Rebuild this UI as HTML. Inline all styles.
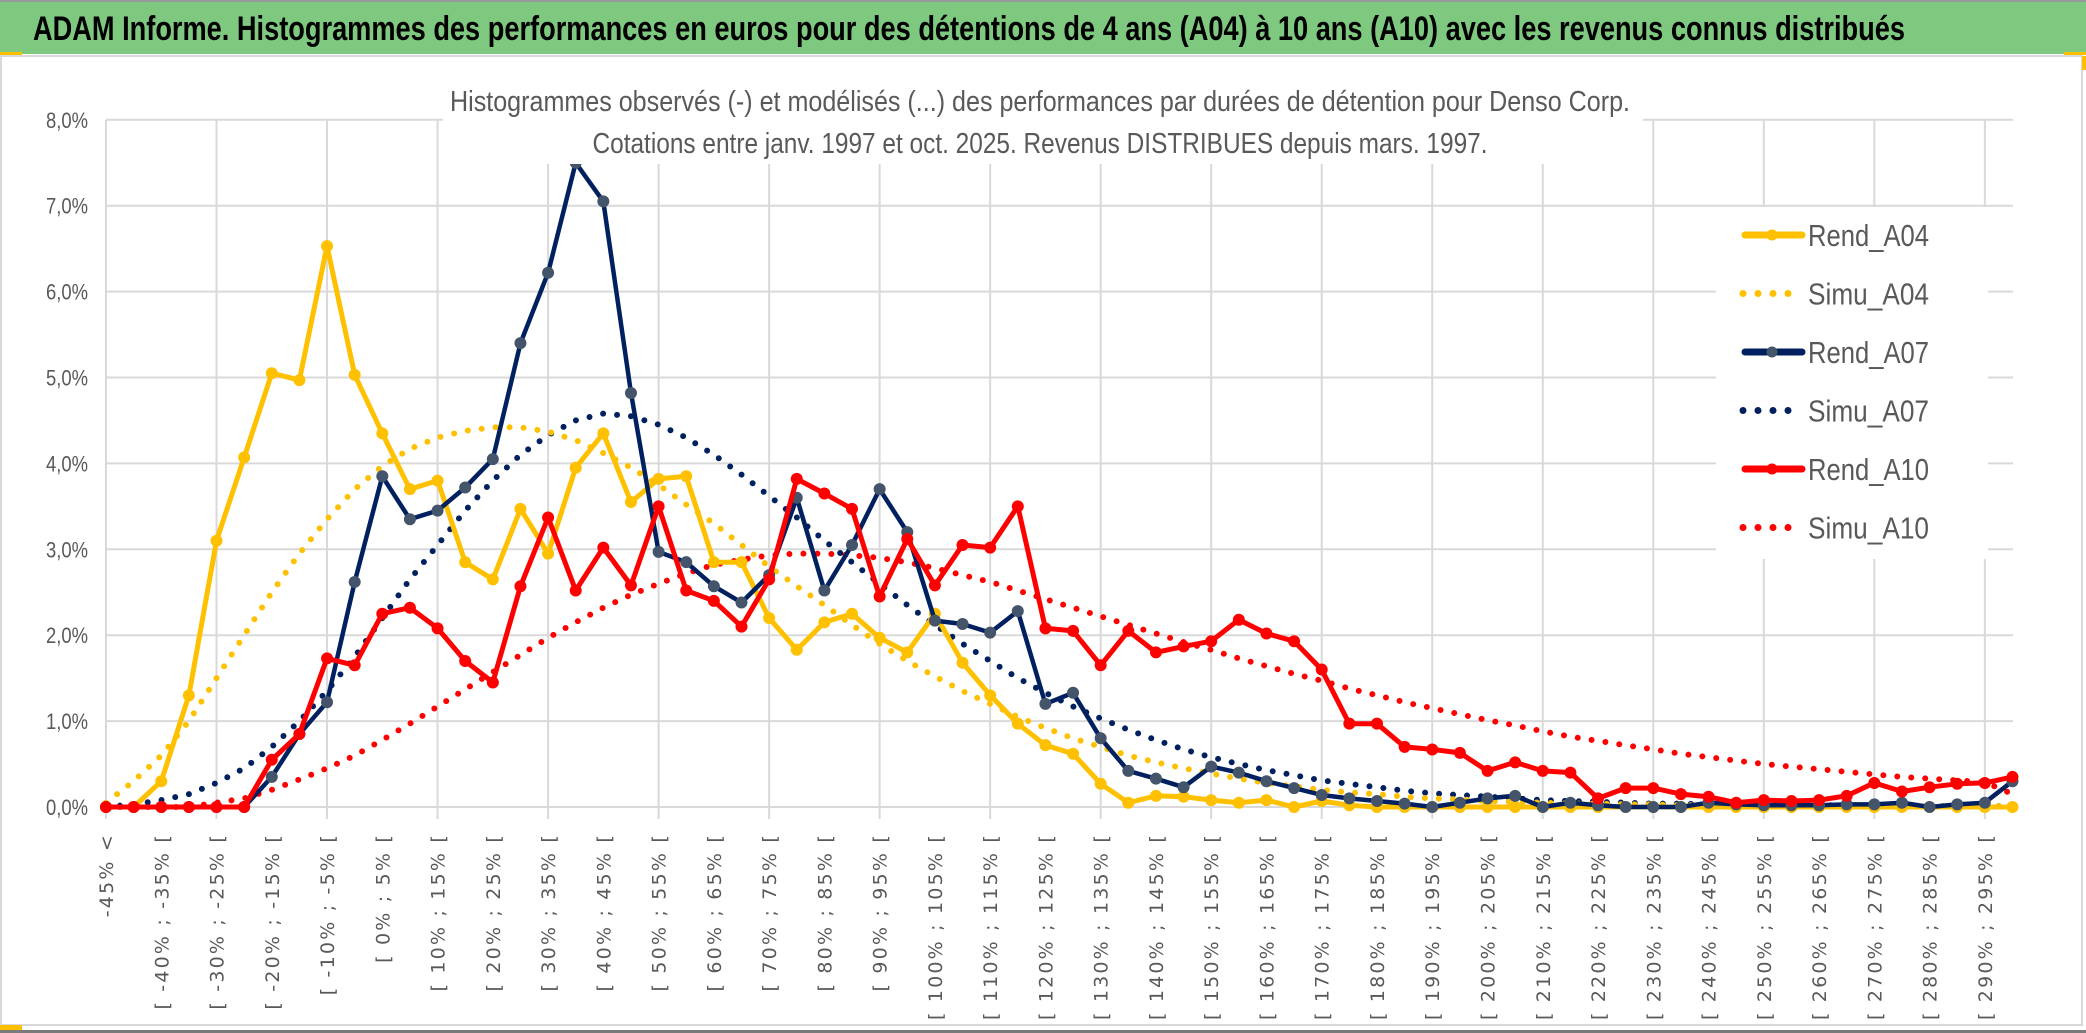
<!DOCTYPE html>
<html><head><meta charset="utf-8"><style>
html,body{margin:0;padding:0;background:#fff;}
svg{display:block;}
</style></head><body>
<svg id="chart" width="2086" height="1033" viewBox="0 0 2086 1033" xmlns="http://www.w3.org/2000/svg">
<rect x="0" y="0" width="2086" height="1033" fill="#ffffff"/>
<rect x="0" y="0" width="2086" height="54" fill="#7ec87f"/>
<rect x="0" y="0" width="2086" height="2" fill="#9a9a9a"/>
<rect x="0" y="52" width="22" height="3" fill="#ffc000"/>
<rect x="2064" y="52" width="22" height="3" fill="#ffc000"/>
<text x="33" y="40" font-family="Liberation Sans, sans-serif" font-weight="bold" font-size="34" fill="#000" textLength="1872" lengthAdjust="spacingAndGlyphs">ADAM Informe. Histogrammes des performances en euros pour des détentions de 4 ans (A04) à 10 ans (A10) avec les revenus connus distribués</text>
<rect x="1" y="56" width="2081" height="969" fill="#fff" stroke="#d9d9d9" stroke-width="2"/>
<rect x="2082" y="56" width="4" height="14" fill="#ffc000"/>
<rect x="0" y="1025" width="22" height="5" fill="#ffc000"/>
<rect x="0" y="1030" width="2086" height="3" fill="#7a7a7a"/>
<g id="grid"></g>
<g id="yticks"></g>
<g id="xticks"></g>
<g id="series"></g>
<rect x="443" y="83" width="1200" height="81" fill="#fff"/>
<text x="1040" y="111" text-anchor="middle" font-family="Liberation Sans, sans-serif" font-size="29" fill="#595959" textLength="1180" lengthAdjust="spacingAndGlyphs">Histogrammes observés (-) et modélisés (...) des performances par durées de détention pour Denso Corp.</text>
<text x="1040" y="153" text-anchor="middle" font-family="Liberation Sans, sans-serif" font-size="29" fill="#595959" textLength="895" lengthAdjust="spacingAndGlyphs">Cotations entre janv. 1997 et oct. 2025. Revenus DISTRIBUES depuis mars. 1997.</text>
<rect x="1716" y="207" width="272" height="352" fill="#fff"/>
<g id="legend"></g>
</svg>
<script>
const catLows = [-45,-40,-35,-30,-25,-20,-15,-10,-5,0,5,10,15,20,25,30,35,40,45,50,55,60,65,70,75,80,85,90,95,100,105,110,115,120,125,130,135,140,145,150,155,160,165,170,175,180,185,190,195,200,205,210,215,220,225,230,235,240,245,250,255,260,265,270,275,280,285,290,295];
const yTicks = ["0,0%","1,0%","2,0%","3,0%","4,0%","5,0%","6,0%","7,0%","8,0%"];
const rendA04 = [0,0,0.3,1.3,3.1,4.07,5.05,4.97,6.53,5.03,4.35,3.7,3.8,2.85,2.65,3.47,2.95,3.95,4.35,3.55,3.82,3.85,2.85,2.85,2.2,1.83,2.15,2.25,1.97,1.8,2.25,1.68,1.3,0.97,0.72,0.62,0.27,0.05,0.13,0.12,0.08,0.05,0.08,0,0.07,0.02,0,0,0,0,0,0,0,0,0,0,0,0,0,0,0,0,0,0,0,0,0,0,0,0];
const simuA04 = [0.05,0.3,0.6,1.0,1.5,2.0,2.5,2.95,3.35,3.7,3.97,4.17,4.3,4.38,4.42,4.42,4.37,4.27,4.12,3.95,3.75,3.52,3.3,3.05,2.8,2.57,2.35,2.12,1.9,1.7,1.52,1.35,1.2,1.05,0.92,0.8,0.7,0.6,0.52,0.45,0.39,0.33,0.28,0.24,0.2,0.17,0.15,0.12,0.1,0.09,0.07,0.06,0.05,0.04,0.04,0.03,0.03,0.02,0.02,0.02,0.02,0.01,0.01,0.01,0.01,0.01,0.01,0.01,0.01,0.01];
const rendA07 = [0,0,0,0,0,0,0.35,0.85,1.22,2.62,3.85,3.35,3.45,3.72,4.05,5.4,6.22,7.5,7.05,4.82,2.97,2.85,2.57,2.38,2.7,3.6,2.52,3.05,3.7,3.2,2.17,2.13,2.03,2.28,1.2,1.33,0.8,0.42,0.33,0.23,0.47,0.4,0.3,0.22,0.14,0.1,0.07,0.04,0,0.05,0.1,0.13,0,0.05,0.02,0,0,0,0.05,0.03,0.02,0.02,0.02,0.03,0.03,0.05,0,0.03,0.05,0.3];
const simuA07 = [0,0.03,0.08,0.15,0.28,0.45,0.7,1.0,1.35,1.75,2.2,2.65,3.05,3.45,3.8,4.1,4.33,4.5,4.58,4.55,4.45,4.3,4.1,3.87,3.62,3.37,3.1,2.85,2.6,2.35,2.12,1.9,1.7,1.5,1.33,1.17,1.03,0.9,0.78,0.67,0.58,0.5,0.43,0.37,0.31,0.27,0.23,0.19,0.16,0.14,0.12,0.1,0.08,0.07,0.06,0.05,0.04,0.04,0.03,0.03,0.02,0.02,0.02,0.02,0.01,0.01,0.01,0.01,0.01,0.01];
const rendA10 = [0,0,0,0,0,0,0.55,0.85,1.73,1.65,2.25,2.32,2.08,1.7,1.45,2.57,3.37,2.52,3.02,2.58,3.5,2.52,2.4,2.1,2.65,3.82,3.65,3.47,2.45,3.12,2.58,3.05,3.02,3.5,2.08,2.05,1.65,2.05,1.8,1.87,1.93,2.18,2.02,1.93,1.6,0.97,0.97,0.7,0.67,0.63,0.42,0.52,0.42,0.4,0.1,0.22,0.22,0.15,0.12,0.05,0.08,0.07,0.08,0.13,0.28,0.18,0.23,0.27,0.28,0.35];
const simuA10 = [0,0,0,0,0.05,0.1,0.2,0.32,0.45,0.6,0.78,0.97,1.17,1.37,1.57,1.77,1.97,2.15,2.32,2.47,2.6,2.72,2.82,2.88,2.93,2.95,2.95,2.93,2.9,2.85,2.78,2.7,2.62,2.52,2.42,2.32,2.22,2.12,2.02,1.92,1.83,1.73,1.64,1.55,1.47,1.38,1.3,1.22,1.15,1.08,1.01,0.95,0.88,0.82,0.77,0.72,0.67,0.62,0.58,0.54,0.5,0.47,0.44,0.41,0.38,0.35,0.33,0.31,0.29,0.15];

const NS = "http://www.w3.org/2000/svg";
const X0 = 106, DX = 27.63, Y0 = 807, DY = 85.9, XEND = 2013;
function xPos(i){ return X0 + i*DX; }
function yPos(v){ return Y0 - v*DY; }
function mk(tag, attrs, parent){ const e=document.createElementNS(NS,tag); for(const k in attrs) e.setAttribute(k,attrs[k]); parent.appendChild(e); return e; }

const categories = ["-45% <"];
for (let k=1;k<catLows.length;k++) categories.push("[ "+catLows[k-1]+"% ; "+catLows[k]+"% [");
categories.push("> 300%");

const grid = document.getElementById('grid');
for (let t=0;t<yTicks.length;t++){
  const l = mk('line',{x1:X0,x2:XEND,y1:yPos(t),y2:yPos(t),stroke:'#d9d9d9','stroke-width':2},grid);
  
  
}
for (let i=0;i<categories.length;i+=4){
  const l = mk('line',{x1:xPos(i),x2:xPos(i),y1:yPos(8),y2:yPos(0)+12,stroke:'#d9d9d9','stroke-width':2},grid);
  
  
}
const yt = document.getElementById('yticks');
yTicks.forEach((s,t)=>{
  const e = mk('text',{x:88,y:yPos(t)+8,'text-anchor':'end','font-family':'Liberation Sans, sans-serif','font-size':22,fill:'#595959',textLength:s.length*10.5,lengthAdjust:'spacingAndGlyphs'},yt);
  e.textContent = s;
  
  
});
const xt = document.getElementById('xticks');
categories.forEach((s,i)=>{
  if (i%2!==0 || i>68) return;
  const x = xPos(i)+7, y = 833;
  const e = mk('text',{x:x,y:y,'text-anchor':'end','font-family':'DejaVu Sans, sans-serif','font-size':19,fill:'#595959','letter-spacing':'2.2',transform:'rotate(-90 '+x+' '+y+')'},xt);
  e.textContent = s;
  
  
});

const sg = document.getElementById('series');
function pts(arr){ return arr.map((v,i)=>xPos(i).toFixed(1)+','+yPos(v).toFixed(1)).join(' '); }
function dotted(arr,color,name){
  const p = mk('polyline',{points:pts(arr),fill:'none',stroke:color,'stroke-width':6,'stroke-linecap':'round','stroke-dasharray':'0 14'},sg);
  
  
}
function solid(arr,color,mfill,w,name){
  const p = mk('polyline',{points:pts(arr),fill:'none',stroke:color,'stroke-width':w,'stroke-linejoin':'round'},sg);
  
  
  arr.forEach((v,i)=>{
    const c = mk('circle',{cx:xPos(i),cy:yPos(v),r:5.5,fill:mfill,stroke:mfill,'stroke-width':1},sg);
    
    
  });
}
dotted(simuA10,'#ff0000','simu-a10-line');
dotted(simuA07,'#002060','simu-a07-line');
dotted(simuA04,'#ffc000','simu-a04-line');
solid(rendA04,'#ffc000','#ffc000',5,'rend-a04-line');
solid(rendA07,'#002060','#44546a',4.5,'rend-a07-line');
solid(rendA10,'#ff0000','#ff0000',5,'rend-a10-line');

const legendItems = [["Rend_A04","#ffc000","#ffc000",false],["Simu_A04","#ffc000",null,true],["Rend_A07","#002060","#44546a",false],["Simu_A07","#002060",null,true],["Rend_A10","#ff0000","#ff0000",false],["Simu_A10","#ff0000",null,true]];
const lg = document.getElementById('legend');
legendItems.forEach((it,k)=>{
  const y = 235 + k*58.5;
  if (it[3]) {
    const l = mk('line',{x1:1743,x2:1791,y1:y,y2:y,stroke:it[1],'stroke-width':7,'stroke-linecap':'round','stroke-dasharray':'0 15'},lg);
    
    
  } else {
    const l = mk('line',{x1:1745,x2:1802,y1:y,y2:y,stroke:it[1],'stroke-width':7,'stroke-linecap':'round'},lg);
    
    
    const c = mk('circle',{cx:1772,cy:y,r:5.5,fill:it[2]},lg);
    
    
  }
  const t = mk('text',{x:1808,y:y+11,'font-family':'Liberation Sans, sans-serif','font-size':31,fill:'#595959',textLength:121,lengthAdjust:'spacingAndGlyphs'},lg);
  t.textContent = it[0];
  
  
});
</script>
</body></html>
